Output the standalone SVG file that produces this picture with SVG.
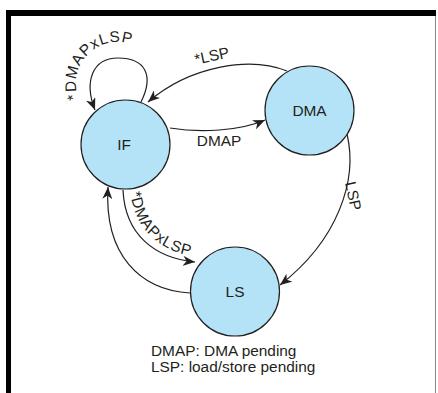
<svg xmlns="http://www.w3.org/2000/svg" width="438" height="393" viewBox="0 0 438 393">
  <style>
    .state circle { fill: #b4e3f8; stroke: #231f20; stroke-width: 1.2; }
    .state text, .lbl, .legend { font-family: "Liberation Sans", Arial, sans-serif; font-size: 15.4px; fill: #231f20; }
    .state text { text-anchor: middle; }
    .curved { letter-spacing: 0.8px; }
    .edge { fill: none; stroke: #231f20; stroke-width: 1.2; marker-end: url(#arrow); }
  </style>
  <defs>
    <marker id="arrow" markerUnits="userSpaceOnUse" markerWidth="14" markerHeight="10" refX="12" refY="5" orient="auto">
      <path d="M0,0 L12,5 L0,10 L3.5,5 Z" fill="#231f20"/>
    </marker>
    <!-- baselines for curved transition labels -->
    <path id="loopText" d="M 78.5,98.4 A 42 42 0 0 1 139,47.6"/>
    <path id="ifLsText" d="M 130,186 C 132,230 162,255 206,258"/>
  </defs>

  <rect width="438" height="393" fill="#fff"/>

  <!-- page frame -->
  <g id="frame">
    <rect x="6" y="10" width="430" height="6" fill="#000"/>
    <rect x="6" y="10" width="5" height="383" fill="#000"/>
    <line x1="435.5" y1="16" x2="435.5" y2="393" stroke="#888" stroke-width="1"/>
  </g>

  <!-- transitions -->
  <g id="connectors">
    <path class="edge" d="M 141,102 C 154,76 146,58 118,58 C 92,58 84,82 95,110"/>
    <path class="edge" d="M 287,71 C 250,56 190,66 148,102"/>
    <path class="edge" d="M 170,128 C 200,133 240,131 265,120"/>
    <path class="edge" d="M 347,134 C 358,180 338,240 280,285"/>
    <path class="edge" d="M 123,190 C 125,235 155,258 195,262"/>
    <path class="edge" d="M 190,293 C 140,290 104,255 108,187"/>

    <text class="lbl curved"><textPath href="#loopText">*DMAPxLSP</textPath></text>
    <text class="lbl" transform="translate(213,61) rotate(-12)" text-anchor="middle">*LSP</text>
    <text class="lbl" x="219" y="146" text-anchor="middle">DMAP</text>
    <text class="lbl" transform="translate(348,197) rotate(78)" text-anchor="middle">LSP</text>
    <text class="lbl curved"><textPath href="#ifLsText" startOffset="6">*DMAPxLSP</textPath></text>
  </g>

  <!-- states -->
  <g id="IF" class="state">
    <circle cx="125.5" cy="144.5" r="44.5"/>
    <text x="124" y="150">IF</text>
  </g>
  <g id="DMA" class="state">
    <circle cx="309.5" cy="110.5" r="44.5"/>
    <text x="309.5" y="116">DMA</text>
  </g>
  <g id="LS" class="state">
    <circle cx="235" cy="291.5" r="44.5"/>
    <text x="235" y="297">LS</text>
  </g>

  <!-- legend -->
  <g id="legend">
    <text class="legend" x="151" y="356">DMAP: DMA pending</text>
    <text class="legend" x="151" y="372">LSP: load/store pending</text>
  </g>
</svg>
